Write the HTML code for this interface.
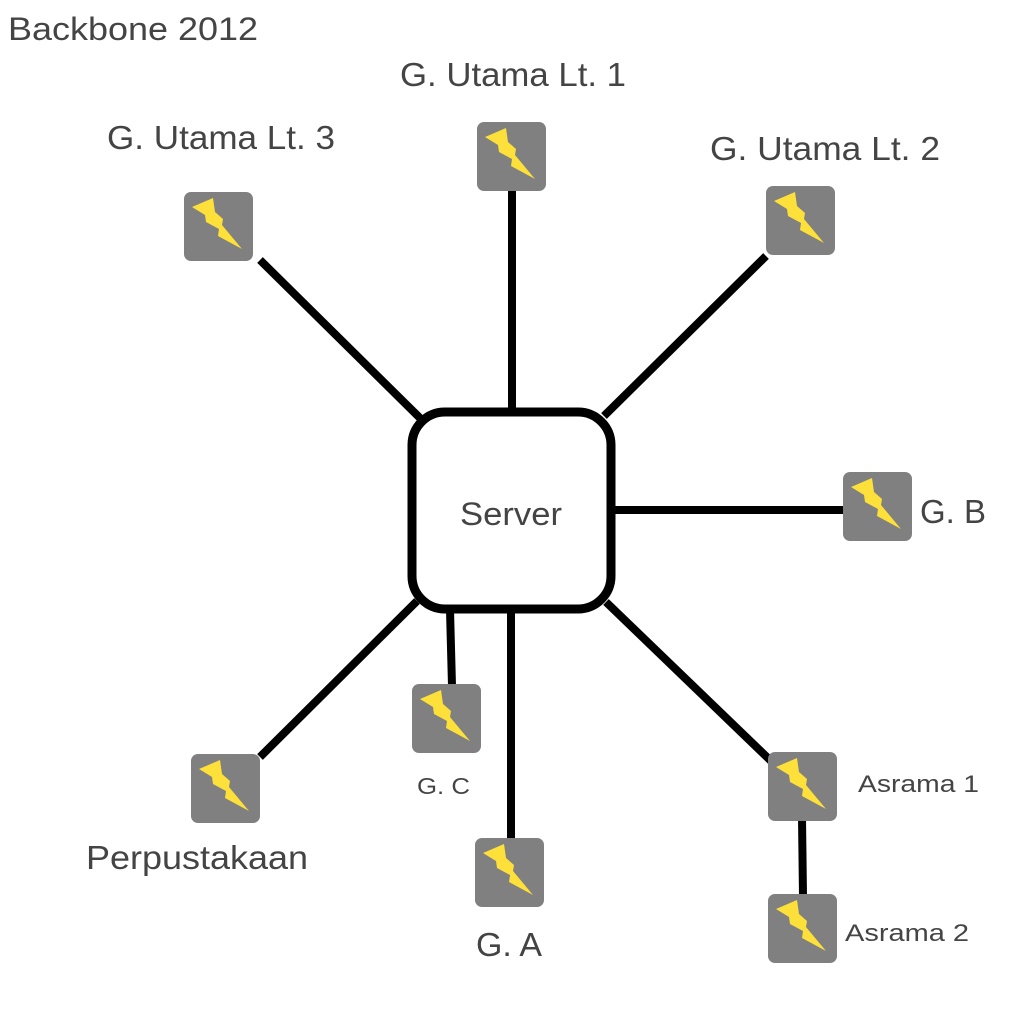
<!DOCTYPE html>
<html><head><meta charset="utf-8"><style>
html,body{margin:0;padding:0;background:#fff;}
svg{display:block;}
text{font-family:"Liberation Sans",sans-serif;fill:#444;}
</style></head><body>
<svg width="1024" height="1024" viewBox="0 0 1024 1024" xmlns="http://www.w3.org/2000/svg">
<defs>
<g id="sw">
<rect x="0" y="0" width="69" height="69" rx="7" fill="#808080"/>
<polygon points="8,15 29,6 31,20 39,27 38,33 58,57 34,44 35,37 22,30 21,23" fill="#fde03a"/>
</g>
</defs>
<text x="8" y="40" font-size="32" textLength="250" lengthAdjust="spacingAndGlyphs">Backbone 2012</text>
<g stroke="#000" stroke-width="8" fill="none">
<line x1="260" y1="260" x2="422" y2="420"/>
<line x1="512" y1="190" x2="512" y2="410"/>
<line x1="766" y1="256" x2="604" y2="416"/>
<line x1="612" y1="510" x2="845" y2="510"/>
<line x1="450" y1="610" x2="452" y2="686"/>
<line x1="417" y1="601" x2="260" y2="757"/>
<line x1="511" y1="612" x2="511" y2="840"/>
<line x1="606" y1="602" x2="772" y2="762"/>
<line x1="802" y1="818" x2="803" y2="896"/>
</g>
<rect x="412" y="412" width="199" height="197" rx="33" fill="#fff" stroke="#000" stroke-width="9"/>
<text x="460" y="525" font-size="32" textLength="102" lengthAdjust="spacingAndGlyphs">Server</text>
<use href="#sw" x="477" y="122"/>
<use href="#sw" x="184" y="192"/>
<use href="#sw" x="766" y="186"/>
<use href="#sw" x="843" y="472"/>
<use href="#sw" x="412" y="684"/>
<use href="#sw" x="191" y="754"/>
<use href="#sw" x="475" y="838"/>
<use href="#sw" x="768" y="752"/>
<use href="#sw" x="768" y="894"/>
<text x="400" y="86" font-size="33" textLength="226" lengthAdjust="spacingAndGlyphs">G. Utama Lt. 1</text>
<text x="107" y="149" font-size="33" textLength="228" lengthAdjust="spacingAndGlyphs">G. Utama Lt. 3</text>
<text x="710" y="160" font-size="33" textLength="230" lengthAdjust="spacingAndGlyphs">G. Utama Lt. 2</text>
<text x="920" y="523" font-size="33" textLength="66" lengthAdjust="spacingAndGlyphs">G. B</text>
<text x="417" y="794" font-size="23" textLength="53" lengthAdjust="spacingAndGlyphs">G. C</text>
<text x="86" y="869" font-size="33" textLength="222" lengthAdjust="spacingAndGlyphs">Perpustakaan</text>
<text x="476" y="956" font-size="33" textLength="66" lengthAdjust="spacingAndGlyphs">G. A</text>
<text x="858" y="792" font-size="24" textLength="121" lengthAdjust="spacingAndGlyphs">Asrama 1</text>
<text x="845" y="941" font-size="24" textLength="124" lengthAdjust="spacingAndGlyphs">Asrama 2</text>
</svg>
</body></html>
